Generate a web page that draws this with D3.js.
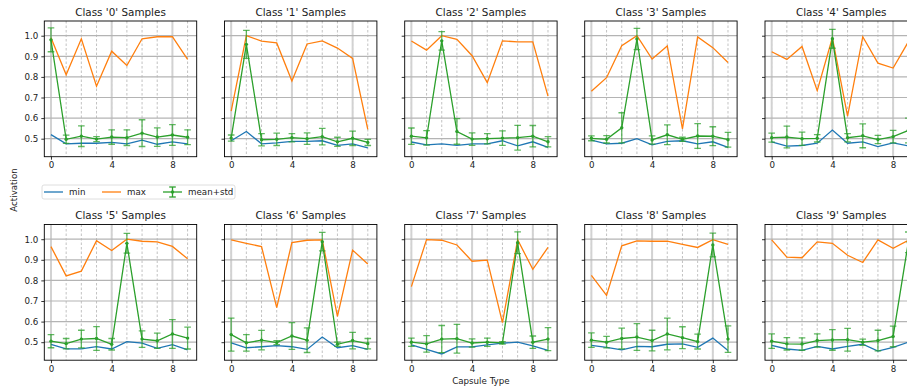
<!DOCTYPE html>
<html>
<head>
<meta charset="utf-8">
<script src="https://cdn.jsdelivr.net/npm/d3@7/dist/d3.min.js"></script>
<style>
  html, body { margin: 0; padding: 0; background: #fff; overflow: hidden; }
  svg { display: block; font-family: "DejaVu Sans", sans-serif; }
</style>
</head>
<body>
<svg id="chart" width="907" height="390"></svg>
<script>
// ── Data ──────────────────────────────────────────────────────────
const classes = ['0', '1', '2', '3', '4', '5', '6', '7', '8', '9'];
const capsules = [0, 1, 2, 3, 4, 5, 6, 7, 8, 9];

const minVals = [
  [0.520, 0.475, 0.478, 0.478, 0.482, 0.475, 0.493, 0.473, 0.485, 0.475],
  [0.490, 0.535, 0.475, 0.480, 0.487, 0.487, 0.490, 0.468, 0.475, 0.455],
  [0.484, 0.470, 0.475, 0.468, 0.475, 0.475, 0.490, 0.465, 0.485, 0.458],
  [0.493, 0.475, 0.478, 0.500, 0.470, 0.487, 0.490, 0.475, 0.485, 0.458],
  [0.485, 0.464, 0.467, 0.478, 0.542, 0.478, 0.485, 0.462, 0.480, 0.465],
  [0.490, 0.468, 0.468, 0.478, 0.467, 0.503, 0.495, 0.470, 0.488, 0.463],
  [0.497, 0.473, 0.478, 0.483, 0.478, 0.465, 0.525, 0.473, 0.483, 0.465],
  [0.487, 0.465, 0.443, 0.477, 0.477, 0.487, 0.495, 0.500, 0.482, 0.460],
  [0.485, 0.475, 0.463, 0.480, 0.478, 0.490, 0.492, 0.475, 0.520, 0.460],
  [0.485, 0.467, 0.460, 0.480, 0.467, 0.480, 0.490, 0.457, 0.475, 0.500]
];

const maxVals = [
  [0.990, 0.810, 0.985, 0.755, 0.925, 0.855, 0.985, 0.995, 0.995, 0.885],
  [0.634, 1.000, 0.974, 0.965, 0.780, 0.960, 0.975, 0.940, 0.890, 0.545],
  [0.974, 0.930, 1.000, 0.982, 0.903, 0.772, 0.975, 0.970, 0.970, 0.707],
  [0.730, 0.796, 0.951, 1.000, 0.887, 0.950, 0.548, 0.994, 0.942, 0.870],
  [0.922, 0.885, 0.948, 0.733, 0.990, 0.610, 0.995, 0.867, 0.843, 0.970],
  [0.964, 0.822, 0.845, 0.993, 0.945, 1.000, 0.990, 0.987, 0.965, 0.905],
  [0.997, 0.980, 0.964, 0.668, 0.984, 0.995, 0.997, 0.625, 0.947, 0.880],
  [0.770, 0.998, 0.995, 0.972, 0.893, 0.898, 0.595, 0.997, 0.854, 0.960],
  [0.824, 0.727, 0.968, 0.992, 0.990, 0.991, 0.975, 0.960, 0.998, 0.975],
  [0.997, 0.913, 0.910, 0.987, 0.980, 0.922, 0.887, 0.997, 0.956, 0.995]
];

const meanVals = [
  [0.980, 0.497, 0.512, 0.498, 0.508, 0.505, 0.527, 0.508, 0.518, 0.507],
  [0.503, 0.958, 0.495, 0.497, 0.505, 0.500, 0.510, 0.485, 0.502, 0.482],
  [0.512, 0.504, 0.975, 0.535, 0.498, 0.500, 0.503, 0.505, 0.512, 0.485],
  [0.502, 0.497, 0.553, 0.984, 0.494, 0.519, 0.497, 0.513, 0.512, 0.495],
  [0.505, 0.508, 0.500, 0.502, 0.985, 0.505, 0.514, 0.496, 0.510, 0.540],
  [0.505, 0.493, 0.515, 0.518, 0.490, 0.980, 0.515, 0.507, 0.540, 0.520],
  [0.537, 0.497, 0.510, 0.498, 0.530, 0.510, 0.988, 0.490, 0.508, 0.493],
  [0.500, 0.492, 0.515, 0.517, 0.496, 0.500, 0.497, 0.983, 0.500, 0.515],
  [0.510, 0.500, 0.518, 0.525, 0.508, 0.540, 0.522, 0.503, 0.972, 0.515],
  [0.505, 0.492, 0.491, 0.508, 0.511, 0.512, 0.500, 0.508, 0.528, 0.985]
];

const stdVals = [
  [0.058, 0.020, 0.050, 0.012, 0.035, 0.038, 0.065, 0.045, 0.050, 0.036],
  [0.015, 0.068, 0.030, 0.030, 0.020, 0.028, 0.040, 0.022, 0.035, 0.015],
  [0.040, 0.035, 0.045, 0.062, 0.030, 0.025, 0.035, 0.060, 0.052, 0.025],
  [0.012, 0.018, 0.073, 0.052, 0.020, 0.048, 0.010, 0.060, 0.046, 0.036],
  [0.022, 0.053, 0.032, 0.018, 0.046, 0.020, 0.058, 0.020, 0.030, 0.060],
  [0.032, 0.025, 0.043, 0.058, 0.028, 0.048, 0.040, 0.037, 0.070, 0.053],
  [0.080, 0.040, 0.047, 0.010, 0.065, 0.060, 0.045, 0.010, 0.040, 0.025],
  [0.020, 0.040, 0.066, 0.070, 0.020, 0.020, 0.006, 0.053, 0.030, 0.056],
  [0.035, 0.028, 0.050, 0.065, 0.050, 0.077, 0.053, 0.036, 0.058, 0.064],
  [0.035, 0.030, 0.030, 0.032, 0.050, 0.055, 0.015, 0.050, 0.050, 0.050]
];

const yTicks = [0.5, 0.6, 0.7, 0.8, 0.9, 1.0];
const xTicks = [0, 4, 8];

// ── Layout ────────────────────────────────────────────────────────
const W = 907, H = 390;
const PANEL_W = 152.4, PANEL_H = 135.7;
const COL_X = [44.3, 224.5, 404.7, 584.7, 765];
const ROW_Y = [21, 224.5];

const C_MIN = '#1f77b4', C_MAX = '#ff7f0e', C_MEAN = '#2ca02c';
const LW = 1.3;
const TICK_FS = 8.7, TITLE_FS = 10.4;

const svg = d3.select('#chart');

const x = d3.scaleLinear().domain([-0.44, 9.6]).range([0, PANEL_W]);
const y = d3.scaleLinear().domain([0.4126, 1.0714]).range([PANEL_H, 0]);

const defs = svg.append('defs');
defs.append('clipPath').attr('id', 'panel-clip')
  .append('rect').attr('width', PANEL_W).attr('height', PANEL_H);

const line = d3.line().x((d, i) => x(capsules[i])).y(d => y(d));

classes.forEach((cls, k) => {
  const row = Math.floor(k / 5), col = k % 5;
  const g = svg.append('g').attr('transform', `translate(${COL_X[col]},${ROW_Y[row]})`);

  // grid: minor dashed verticals, major verticals, horizontals
  const grid = g.append('g');
  grid.selectAll('.vmin').data(capsules).join('line')
    .attr('x1', d => x(d)).attr('x2', d => x(d))
    .attr('y1', 0).attr('y2', PANEL_H)
    .attr('stroke', '#a8a8a8').attr('stroke-width', 0.7)
    .attr('stroke-dasharray', '2.5 2');
  grid.selectAll('.vmaj').data(xTicks).join('line')
    .attr('x1', d => x(d)).attr('x2', d => x(d))
    .attr('y1', 0).attr('y2', PANEL_H)
    .attr('stroke', '#d2d2d2').attr('stroke-width', 2);
  grid.selectAll('.hmaj').data(yTicks).join('line')
    .attr('x1', 0).attr('x2', PANEL_W)
    .attr('y1', d => y(d)).attr('y2', d => y(d))
    .attr('stroke', '#b4b4b4').attr('stroke-width', 1.2);

  const plot = g.append('g').attr('clip-path', 'url(#panel-clip)');

  plot.append('path').datum(minVals[k]).attr('d', line)
    .attr('fill', 'none').attr('stroke', C_MIN).attr('stroke-width', LW);
  plot.append('path').datum(maxVals[k]).attr('d', line)
    .attr('fill', 'none').attr('stroke', C_MAX).attr('stroke-width', LW);

  // error bars
  const eb = capsules.map((c, i) => ({ c, m: meanVals[k][i], s: stdVals[k][i] }));
  const bars = plot.append('g').attr('stroke', C_MEAN).attr('stroke-opacity', 0.75).attr('stroke-width', LW);
  bars.selectAll('.bar').data(eb).join('line')
    .attr('x1', d => x(d.c)).attr('x2', d => x(d.c))
    .attr('y1', d => y(d.m - d.s)).attr('y2', d => y(d.m + d.s));
  bars.selectAll('.capLo').data(eb).join('line')
    .attr('x1', d => x(d.c) - 3.3).attr('x2', d => x(d.c) + 3.3)
    .attr('y1', d => y(d.m - d.s)).attr('y2', d => y(d.m - d.s));
  bars.selectAll('.capHi').data(eb).join('line')
    .attr('x1', d => x(d.c) - 3.3).attr('x2', d => x(d.c) + 3.3)
    .attr('y1', d => y(d.m + d.s)).attr('y2', d => y(d.m + d.s));

  plot.append('path').datum(meanVals[k]).attr('d', line)
    .attr('fill', 'none').attr('stroke', C_MEAN).attr('stroke-width', LW);
  plot.selectAll('.dot').data(eb).join('circle')
    .attr('cx', d => x(d.c)).attr('cy', d => y(d.m)).attr('r', 1.7)
    .attr('fill', C_MEAN);

  // axes
  const xAxis = d3.axisBottom(x).tickValues(xTicks).tickSize(3).tickPadding(2.5).tickFormat(d3.format('d'));
  const gx = g.append('g').attr('transform', `translate(0,${PANEL_H})`).call(xAxis);
  const yAxis = d3.axisLeft(y).tickValues(yTicks).tickSize(3).tickPadding(3)
    .tickFormat(col === 0 ? d3.format('.1f') : () => '');
  const gy = g.append('g').call(yAxis);
  [gx, gy].forEach(a => {
    a.select('.domain').remove();
    a.selectAll('.tick line').attr('stroke', '#000').attr('stroke-width', 0.8);
    a.selectAll('.tick text').attr('font-size', TICK_FS).attr('fill', '#222')
      .attr('font-family', '"DejaVu Sans", sans-serif');
  });

  g.append('rect').attr('width', PANEL_W).attr('height', PANEL_H)
    .attr('fill', 'none').attr('stroke', '#000').attr('stroke-width', 0.9);

  g.append('text').attr('x', PANEL_W / 2).attr('y', -5.5)
    .attr('text-anchor', 'middle').attr('font-size', TITLE_FS).attr('fill', '#222')
    .text(`Class '${cls}' Samples`);
});

// ── Figure labels ─────────────────────────────────────────────────
svg.append('text')
  .attr('transform', 'translate(17,190) rotate(-90)')
  .attr('text-anchor', 'middle').attr('font-size', TICK_FS).attr('fill', '#222')
  .text('Activation');

svg.append('text')
  .attr('x', COL_X[2] + PANEL_W / 2).attr('y', 384)
  .attr('text-anchor', 'middle').attr('font-size', TICK_FS).attr('fill', '#222')
  .text('Capsule Type');

// ── Legend ────────────────────────────────────────────────────────
const legend = svg.append('g').attr('transform', 'translate(42,185)');
legend.append('rect').attr('width', 193).attr('height', 14).attr('rx', 2)
  .attr('fill', '#fff').attr('stroke', '#d6d6d6').attr('stroke-width', 0.8);

const legendItems = [
  { label: 'min', color: C_MIN, x0: 2, err: false },
  { label: 'max', color: C_MAX, x0: 60, err: false },
  { label: 'mean+std', color: C_MEAN, x0: 121, err: true }
];
legendItems.forEach(it => {
  const li = legend.append('g');
  li.append('line').attr('x1', it.x0).attr('x2', it.x0 + 19)
    .attr('y1', 7).attr('y2', 7).attr('stroke', it.color).attr('stroke-width', LW);
  if (it.err) {
    const cx = it.x0 + 9.5;
    li.append('line').attr('x1', cx).attr('x2', cx).attr('y1', 2).attr('y2', 12)
      .attr('stroke', it.color).attr('stroke-width', LW);
    [2, 12].forEach(yy => li.append('line').attr('x1', cx - 3.3).attr('x2', cx + 3.3)
      .attr('y1', yy).attr('y2', yy).attr('stroke', it.color).attr('stroke-width', LW));
    li.append('circle').attr('cx', cx).attr('cy', 7).attr('r', 1.7).attr('fill', it.color);
  }
  li.append('text').attr('x', it.x0 + 25).attr('y', 10)
    .attr('font-size', TICK_FS).attr('fill', '#222').text(it.label);
});
</script>
</body>
</html>
